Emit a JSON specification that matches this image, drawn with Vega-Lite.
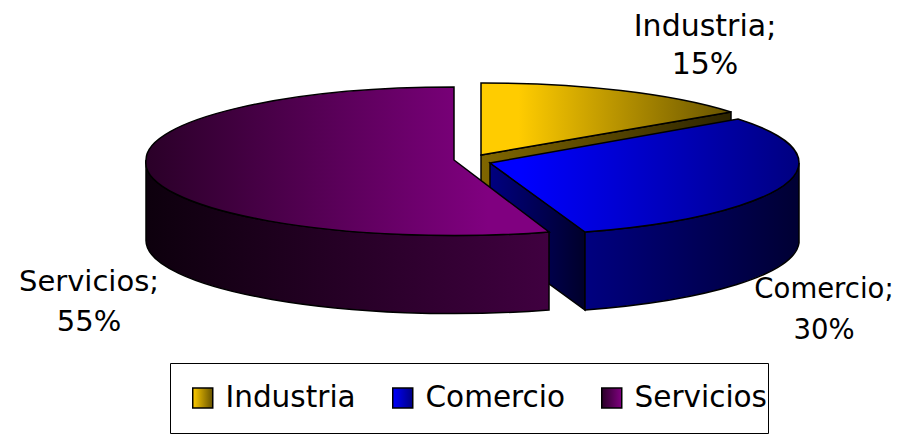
{
"$schema":"https://vega.github.io/schema/vega-lite/v6.json",
"width":912,"height":434,"padding":0,
"autosize":{"type":"fit","contains":"padding"},
"background":"white",
"config":{"view":{"stroke":null}},
"data":{"values":[
{"sector":"Industria","share":15,"label":"Industria;\n15%"},
{"sector":"Comercio","share":30,"label":"Comercio;\n30%"},
{"sector":"Servicios","share":55,"label":"Servicios;\n55%"}]},
"layer":[
{"mark":{"type":"point","filled":true,"size":0},
 "encoding":{"shape":{"field":"sector","type":"nominal","scale":{"domain":["Industria","Comercio","Servicios"],"range":["square","square","square"]},
 "legend":{"title":null,"orient":"none","legendX":170,"legendY":363,"direction":"horizontal","columns":3,"symbolSize":400,"symbolOpacity":1,"symbolOffset":17,"labelFont":"DejaVu Sans","labelFontSize":29.5,"labelColor":"black","labelLimit":300,"columnPadding":15,"labelOffset":8,"strokeColor":"black","fillColor":"white","padding":1,"clipHeight":68,
 "encoding":{"symbols":{"stroke":{"value":"black"},"strokeWidth":{"value":1.5},"fill":{"value":{"expr":"datum.value==='Industria'?{gradient:'linear',x1:0,x2:1,y1:0,y2:0,stops:[{offset:0,color:'#ffcc00'},{offset:1,color:'#665200'}]}:datum.value==='Comercio'?{gradient:'linear',x1:0,x2:1,y1:0,y2:0,stops:[{offset:0,color:'#0000ff'},{offset:1,color:'#000080'}]}:{gradient:'linear',x1:0,x2:1,y1:0,y2:0,stops:[{offset:0,color:'#2a0028'},{offset:1,color:'#800080'}]}"}}}}}}}},
{"transform":[{"filter":"datum.sector==='Industria'"}],
 "mark":{"type":"point","filled":true,"opacity":1,"size":4,"stroke":"black","strokeWidth":1.5,"shape":"M25,-62 L275,-105 L275,-26 L25,17 Z",
 "fill":{"gradient":"linear","x1":0,"x2":1,"y1":0,"y2":0,"stops":[{"offset":0,"color":"#806600"},{"offset":1,"color":"#2c2400"}]}},"encoding":{}},
{"transform":[{"filter":"datum.sector==='Industria'"}],
 "mark":{"type":"point","filled":true,"opacity":1,"size":4,"stroke":"black","strokeWidth":1.5,"shape":"M25,-62 L25,-134 A309,72 0 0 1 275,-105 Z",
 "fill":{"gradient":"linear","x1":0,"x2":1,"y1":0,"y2":0,"stops":[{"offset":0,"color":"#ffcc00"},{"offset":0.15,"color":"#ffcc00"},{"offset":1,"color":"#665200"}]}},"encoding":{}},
{"transform":[{"filter":"datum.sector==='Comercio'"}],
 "mark":{"type":"point","filled":true,"opacity":1,"size":4,"stroke":"black","strokeWidth":1.5,"shape":"M34,-54 L129,15 L129,93 L34,24 Z",
 "fill":{"gradient":"linear","x1":0,"x2":1,"y1":0,"y2":0,"stops":[{"offset":0,"color":"#000080"},{"offset":1,"color":"#00002a"}]}},"encoding":{}},
{"transform":[{"filter":"datum.sector==='Comercio'"}],
 "mark":{"type":"point","filled":true,"opacity":1,"size":4,"stroke":"black","strokeWidth":1.5,"shape":"M129,15 A309,73 0 0 0 343,-54 L343,26 A309,73 0 0 1 129,93 Z",
 "fill":{"gradient":"linear","x1":0,"x2":1,"y1":0,"y2":0,"stops":[{"offset":0,"color":"#000080"},{"offset":1,"color":"#000033"}]}},"encoding":{}},
{"transform":[{"filter":"datum.sector==='Comercio'"}],
 "mark":{"type":"point","filled":true,"opacity":1,"size":4,"stroke":"black","strokeWidth":1.5,"shape":"M34,-54 L129,15 A309,73 0 0 0 343,-54 A309,73 0 0 0 282,-98 Z",
 "fill":{"gradient":"linear","x1":0,"x2":1,"y1":0,"y2":0,"stops":[{"offset":0,"color":"#0000ff"},{"offset":0.1,"color":"#0000ff"},{"offset":1,"color":"#000080"}]}},"encoding":{}},
{"transform":[{"filter":"datum.sector==='Servicios'"}],
 "mark":{"type":"point","filled":true,"opacity":1,"size":4,"stroke":"black","strokeWidth":1.5,"shape":"M-310,-57 A308,73 0 0 0 93,15 L93,93 A308,73 0 0 1 -310,23 Z",
 "fill":{"gradient":"linear","x1":0,"x2":1,"y1":0,"y2":0,"stops":[{"offset":0,"color":"#0d000d"},{"offset":1,"color":"#400040"}]}},"encoding":{}},
{"transform":[{"filter":"datum.sector==='Servicios'"}],
 "mark":{"type":"point","filled":true,"opacity":1,"size":4,"stroke":"black","strokeWidth":1.5,"shape":"M-2,-57 L-2,-130 A308,73 0 0 0 -310,-57 A308,73 0 0 0 93,15 Z",
 "fill":{"gradient":"linear","x1":0,"x2":1,"y1":0,"y2":0,"stops":[{"offset":0,"color":"#2a0028"},{"offset":0.85,"color":"#800080"},{"offset":1,"color":"#800080"}]}},"encoding":{}},
{"transform":[{"filter":"datum.sector==='Industria'"}],
 "mark":{"type":"text","font":"DejaVu Sans","fontSize":30,"lineBreak":"\n","lineHeight":38,"align":"center","baseline":"middle","color":"black","dx":249,"dy":-190},
 "encoding":{"text":{"field":"label"}}},
{"transform":[{"filter":"datum.sector==='Comercio'"}],
 "mark":{"type":"text","font":"DejaVu Sans","fontSize":27.5,"lineBreak":"\n","lineHeight":41,"align":"center","baseline":"middle","color":"black","dx":368,"dy":73},
 "encoding":{"text":{"field":"label"}}},
{"transform":[{"filter":"datum.sector==='Servicios'"}],
 "mark":{"type":"text","font":"DejaVu Sans","fontSize":29,"lineBreak":"\n","lineHeight":40,"align":"center","baseline":"middle","color":"black","dx":-367,"dy":65},
 "encoding":{"text":{"field":"label"}}}
]}
